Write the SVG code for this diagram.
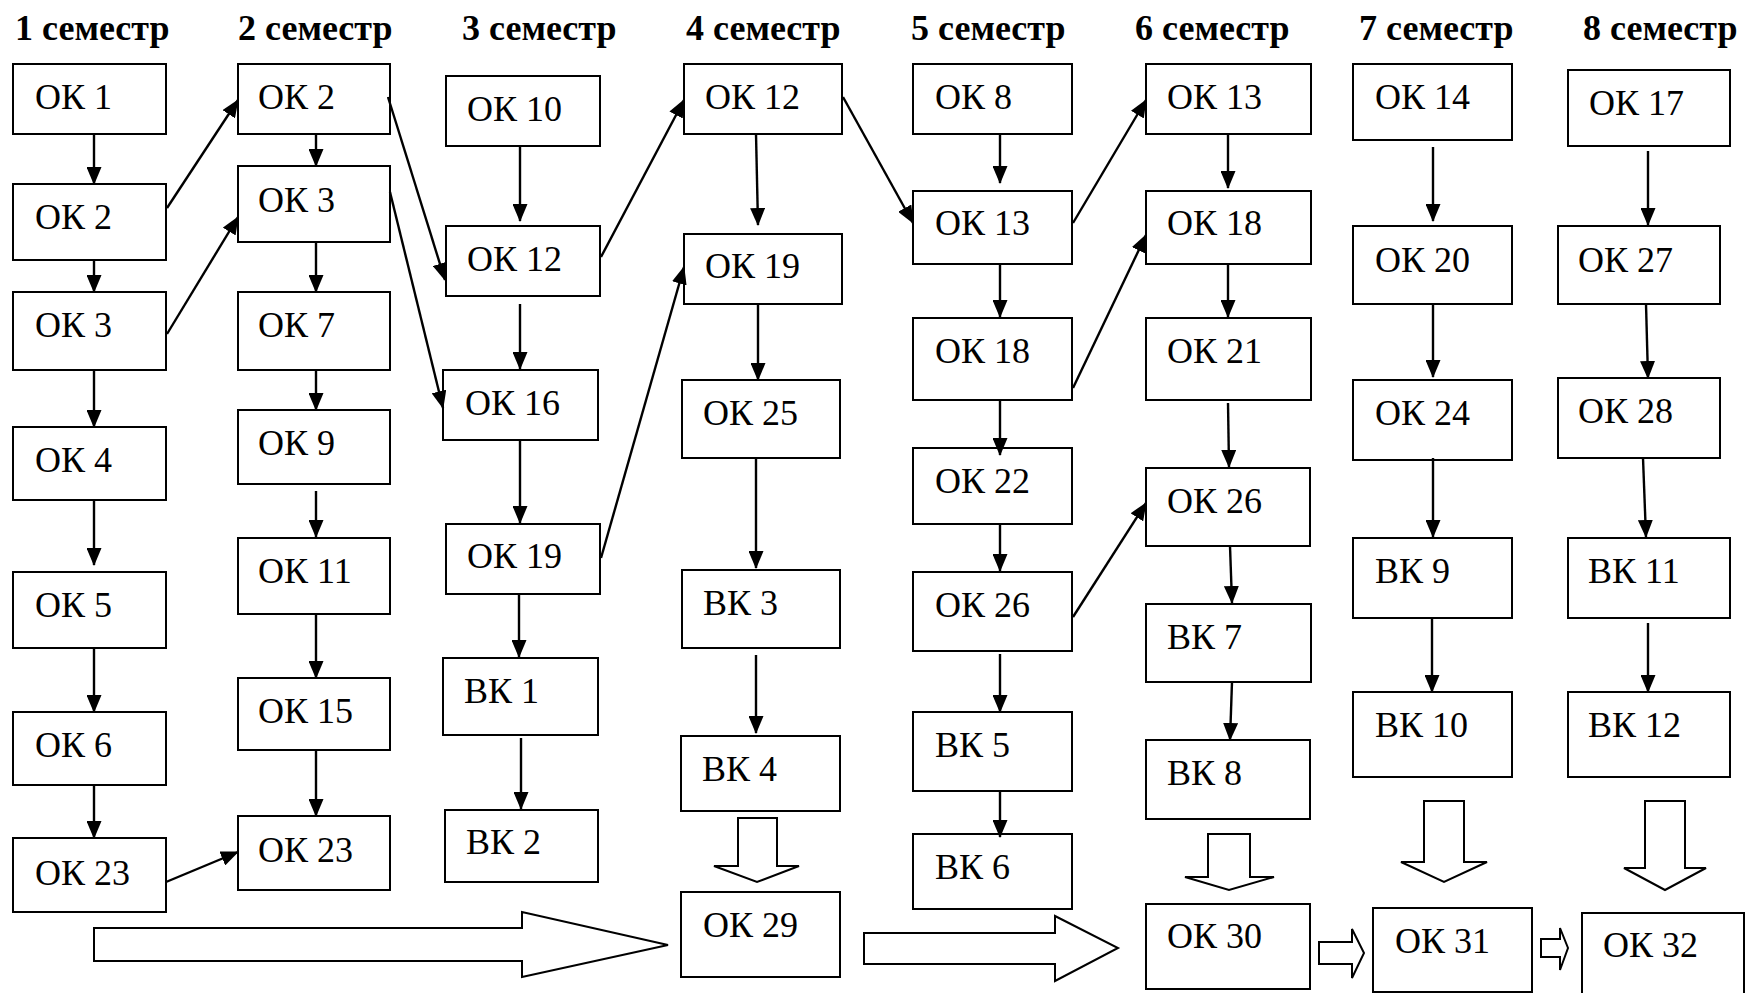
<svg xmlns="http://www.w3.org/2000/svg" width="1745" height="993" viewBox="0 0 1745 993">
<style>
.b{fill:#fff;stroke:#000;stroke-width:2}
text{font-family:'Liberation Serif','Tinos','Times New Roman','Times','Noto Serif','DejaVu Serif',serif}
.t{font-size:36px;fill:#000}
.h{font-size:36px;font-weight:bold;fill:#000}
.c line{stroke:#000;stroke-width:2.4;marker-end:url(#ah)}
.ba{fill:#fff;stroke:#000;stroke-width:2;stroke-linejoin:miter}
</style>
<defs>
<marker id="ah" markerUnits="userSpaceOnUse" markerWidth="18" markerHeight="15" refX="17" refY="7.5" orient="auto" viewBox="0 0 18 15">
<path d="M0,0 L18,7.5 L0,15 z" fill="#000"/>
</marker>
</defs>
<rect width="1745" height="993" fill="#fff"/>
<g id="titles">
<text class="h" x="15" y="40">1 семестр</text>
<text class="h" x="238" y="40">2 семестр</text>
<text class="h" x="462" y="40">3 семестр</text>
<text class="h" x="686" y="40">4 семестр</text>
<text class="h" x="911" y="40">5 семестр</text>
<text class="h" x="1135" y="40">6 семестр</text>
<text class="h" x="1359" y="40">7 семестр</text>
<text class="h" x="1583" y="40">8 семестр</text>
</g>
<g id="s1_ok1"><rect class="b" x="13" y="64" width="153" height="70"/><text class="t" x="35" y="109">ОК 1</text></g>
<g id="s1_ok2"><rect class="b" x="13" y="184" width="153" height="76"/><text class="t" x="35" y="229">ОК 2</text></g>
<g id="s1_ok3"><rect class="b" x="13" y="292" width="153" height="78"/><text class="t" x="35" y="337">ОК 3</text></g>
<g id="s1_ok4"><rect class="b" x="13" y="427" width="153" height="73"/><text class="t" x="35" y="472">ОК 4</text></g>
<g id="s1_ok5"><rect class="b" x="13" y="572" width="153" height="76"/><text class="t" x="35" y="617">ОК 5</text></g>
<g id="s1_ok6"><rect class="b" x="13" y="712" width="153" height="73"/><text class="t" x="35" y="757">ОК 6</text></g>
<g id="s1_ok23"><rect class="b" x="13" y="838" width="153" height="74"/><text class="t" x="35" y="885">ОК 23</text></g>

<g id="s2_ok2"><rect class="b" x="238" y="64" width="152" height="70"/><text class="t" x="258" y="109">ОК 2</text></g>
<g id="s2_ok3"><rect class="b" x="238" y="166" width="152" height="76"/><text class="t" x="258" y="212">ОК 3</text></g>
<g id="s2_ok7"><rect class="b" x="238" y="292" width="152" height="78"/><text class="t" x="258" y="337">ОК 7</text></g>
<g id="s2_ok9"><rect class="b" x="238" y="410" width="152" height="74"/><text class="t" x="258" y="455">ОК 9</text></g>
<g id="s2_ok11"><rect class="b" x="238" y="538" width="152" height="76"/><text class="t" x="258" y="583">ОК 11</text></g>
<g id="s2_ok15"><rect class="b" x="238" y="678" width="152" height="72"/><text class="t" x="258" y="723">ОК 15</text></g>
<g id="s2_ok23"><rect class="b" x="238" y="816" width="152" height="74"/><text class="t" x="258" y="862">ОК 23</text></g>

<g id="s3_ok10"><rect class="b" x="446" y="76" width="154" height="70"/><text class="t" x="467" y="121">ОК 10</text></g>
<g id="s3_ok12"><rect class="b" x="446" y="226" width="154" height="70"/><text class="t" x="467" y="271">ОК 12</text></g>
<g id="s3_ok16"><rect class="b" x="443" y="370" width="155" height="70"/><text class="t" x="465" y="415">ОК 16</text></g>
<g id="s3_ok19"><rect class="b" x="446" y="524" width="154" height="70"/><text class="t" x="467" y="568">ОК 19</text></g>
<g id="s3_vk1"><rect class="b" x="443" y="658" width="155" height="77"/><text class="t" x="464" y="703">ВК 1</text></g>
<g id="s3_vk2"><rect class="b" x="445" y="810" width="153" height="72"/><text class="t" x="466" y="854">ВК 2</text></g>

<g id="s4_ok12"><rect class="b" x="684" y="64" width="158" height="70"/><text class="t" x="705" y="109">ОК 12</text></g>
<g id="s4_ok19"><rect class="b" x="684" y="234" width="158" height="70"/><text class="t" x="705" y="278">ОК 19</text></g>
<g id="s4_ok25"><rect class="b" x="682" y="380" width="158" height="78"/><text class="t" x="703" y="425">ОК 25</text></g>
<g id="s4_vk3"><rect class="b" x="682" y="570" width="158" height="78"/><text class="t" x="703" y="615">ВК 3</text></g>
<g id="s4_vk4"><rect class="b" x="681" y="736" width="159" height="75"/><text class="t" x="702" y="781">ВК 4</text></g>
<g id="s4_ok29"><rect class="b" x="681" y="892" width="159" height="85"/><text class="t" x="703" y="937">ОК 29</text></g>

<g id="s5_ok8"><rect class="b" x="913" y="64" width="159" height="70"/><text class="t" x="935" y="109">ОК 8</text></g>
<g id="s5_ok13"><rect class="b" x="913" y="191" width="159" height="73"/><text class="t" x="935" y="235">ОК 13</text></g>
<g id="s5_ok18"><rect class="b" x="913" y="318" width="159" height="82"/><text class="t" x="935" y="363">ОК 18</text></g>
<g id="s5_ok22"><rect class="b" x="913" y="448" width="159" height="76"/><text class="t" x="935" y="493">ОК 22</text></g>
<g id="s5_ok26"><rect class="b" x="913" y="572" width="159" height="79"/><text class="t" x="935" y="617">ОК 26</text></g>
<g id="s5_vk5"><rect class="b" x="913" y="712" width="159" height="79"/><text class="t" x="935" y="757">ВК 5</text></g>
<g id="s5_vk6"><rect class="b" x="913" y="834" width="159" height="75"/><text class="t" x="935" y="879">ВК 6</text></g>

<g id="s6_ok13"><rect class="b" x="1146" y="64" width="165" height="70"/><text class="t" x="1167" y="109">ОК 13</text></g>
<g id="s6_ok18"><rect class="b" x="1146" y="191" width="165" height="73"/><text class="t" x="1167" y="235">ОК 18</text></g>
<g id="s6_ok21"><rect class="b" x="1146" y="318" width="165" height="82"/><text class="t" x="1167" y="363">ОК 21</text></g>
<g id="s6_ok26"><rect class="b" x="1146" y="468" width="164" height="78"/><text class="t" x="1167" y="513">ОК 26</text></g>
<g id="s6_vk7"><rect class="b" x="1146" y="604" width="165" height="78"/><text class="t" x="1167" y="649">ВК 7</text></g>
<g id="s6_vk8"><rect class="b" x="1146" y="740" width="164" height="79"/><text class="t" x="1167" y="785">ВК 8</text></g>
<g id="s6_ok30"><rect class="b" x="1146" y="904" width="164" height="85"/><text class="t" x="1167" y="948">ОК 30</text></g>

<g id="s7_ok14"><rect class="b" x="1353" y="64" width="159" height="76"/><text class="t" x="1375" y="109">ОК 14</text></g>
<g id="s7_ok20"><rect class="b" x="1353" y="226" width="159" height="78"/><text class="t" x="1375" y="272">ОК 20</text></g>
<g id="s7_ok24"><rect class="b" x="1353" y="380" width="159" height="80"/><text class="t" x="1375" y="425">ОК 24</text></g>
<g id="s7_vk9"><rect class="b" x="1353" y="538" width="159" height="80"/><text class="t" x="1375" y="583">ВК 9</text></g>
<g id="s7_vk10"><rect class="b" x="1353" y="692" width="159" height="85"/><text class="t" x="1375" y="737">ВК 10</text></g>
<g id="s7_ok31"><rect class="b" x="1373" y="908" width="159" height="84"/><text class="t" x="1395" y="953">ОК 31</text></g>

<g id="s8_ok17"><rect class="b" x="1568" y="70" width="162" height="76"/><text class="t" x="1589" y="115">ОК 17</text></g>
<g id="s8_ok27"><rect class="b" x="1558" y="226" width="162" height="78"/><text class="t" x="1578" y="272">ОК 27</text></g>
<g id="s8_ok28"><rect class="b" x="1558" y="378" width="162" height="80"/><text class="t" x="1578" y="423">ОК 28</text></g>
<g id="s8_vk11"><rect class="b" x="1568" y="538" width="162" height="80"/><text class="t" x="1588" y="583">ВК 11</text></g>
<g id="s8_vk12"><rect class="b" x="1568" y="692" width="162" height="85"/><text class="t" x="1588" y="737">ВК 12</text></g>
<g id="s8_ok32"><rect class="b" x="1582" y="913" width="162" height="90"/><text class="t" x="1603" y="957">ОК 32</text></g>

<g id="connectors" class="c">
<line x1="94" y1="134" x2="94" y2="184"/>
<line x1="94" y1="260" x2="94" y2="292"/>
<line x1="94" y1="370" x2="94" y2="427"/>
<line x1="94" y1="500" x2="94" y2="565"/>
<line x1="94" y1="648" x2="94" y2="712"/>
<line x1="94" y1="785" x2="94" y2="838"/>
<line x1="316" y1="134" x2="316" y2="166"/>
<line x1="316" y1="242" x2="316" y2="292"/>
<line x1="316" y1="370" x2="316" y2="410"/>
<line x1="316" y1="491" x2="316" y2="537"/>
<line x1="316" y1="614" x2="316" y2="678"/>
<line x1="316" y1="750" x2="316" y2="816"/>
<line x1="520" y1="146" x2="520" y2="221"/>
<line x1="520" y1="304" x2="520" y2="369"/>
<line x1="520" y1="440" x2="520" y2="523"/>
<line x1="519" y1="594" x2="519" y2="657"/>
<line x1="521" y1="738" x2="521" y2="809"/>
<line x1="756" y1="134" x2="758" y2="225"/>
<line x1="758" y1="304" x2="758" y2="380"/>
<line x1="756" y1="458" x2="756" y2="568"/>
<line x1="756" y1="655" x2="756" y2="733"/>
<line x1="1000" y1="134" x2="1000" y2="183"/>
<line x1="1000" y1="264" x2="1000" y2="317"/>
<line x1="1000" y1="400" x2="1000" y2="455"/>
<line x1="1000" y1="524" x2="1000" y2="571"/>
<line x1="1000" y1="654" x2="1000" y2="712"/>
<line x1="1000" y1="791" x2="1000" y2="837"/>
<line x1="1228" y1="134" x2="1228" y2="188"/>
<line x1="1228" y1="264" x2="1228" y2="317"/>
<line x1="1228" y1="403" x2="1229" y2="467"/>
<line x1="1230" y1="546" x2="1232" y2="603"/>
<line x1="1232" y1="682" x2="1230" y2="740"/>
<line x1="1433" y1="147" x2="1433" y2="221"/>
<line x1="1433" y1="304" x2="1433" y2="377"/>
<line x1="1433" y1="458" x2="1433" y2="537"/>
<line x1="1432" y1="618" x2="1432" y2="692"/>
<line x1="1648" y1="151" x2="1648" y2="225"/>
<line x1="1646" y1="304" x2="1648" y2="378"/>
<line x1="1643" y1="458" x2="1646" y2="537"/>
<line x1="1648" y1="623" x2="1648" y2="692"/>
<line x1="167" y1="208" x2="238" y2="100"/>
<line x1="167" y1="334" x2="238" y2="217"/>
<line x1="166" y1="882" x2="238" y2="852"/>
<line x1="388" y1="97" x2="445" y2="280"/>
<line x1="390" y1="192" x2="443" y2="408"/>
<line x1="601" y1="257" x2="684" y2="100"/>
<line x1="601" y1="558" x2="684" y2="267"/>
<line x1="843" y1="97" x2="913" y2="223"/>
<line x1="1073" y1="223" x2="1146" y2="100"/>
<line x1="1073" y1="388" x2="1146" y2="235"/>
<line x1="1073" y1="617" x2="1146" y2="503"/>
<polygon class="ba" points="94,928 522,928 522,912 668,945 522,977 522,961 94,961"/>
<polygon class="ba" points="864,933 1055,933 1055,916 1118,948 1055,981 1055,964 864,964"/>
<polygon class="ba" points="738,818 777,818 777,866 799,866 757,882 714,866 738,866"/>
<polygon class="ba" points="1208,834 1250,834 1250,877 1274,877 1229,890 1185,877 1208,877"/>
<polygon class="ba" points="1424,801 1464,801 1464,862 1487,862 1444,882 1401,862 1424,862"/>
<polygon class="ba" points="1645,801 1685,801 1685,868 1706,868 1665,890 1624,868 1645,868"/>
<polygon class="ba" points="1319,942 1352,942 1352,929 1364,953 1352,978 1352,964 1319,964"/>
<polygon class="ba" points="1541,939 1560,939 1560,928 1568,948 1560,970 1560,957 1541,957"/>
</g>
</svg>
